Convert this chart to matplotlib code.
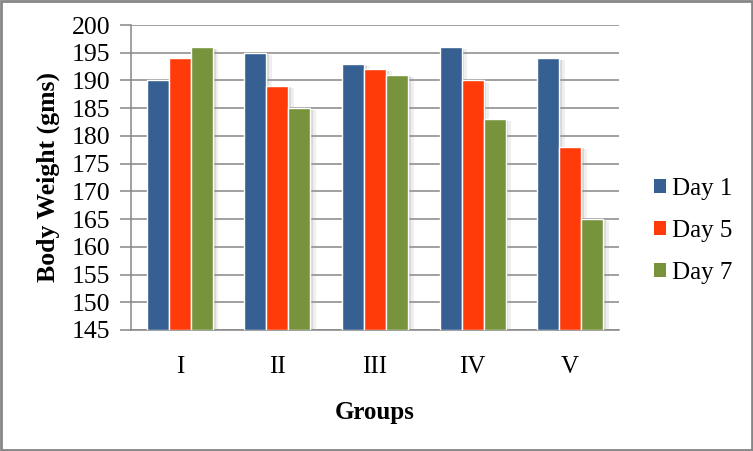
import matplotlib
matplotlib.use("Agg")
import matplotlib.pyplot as plt
import matplotlib.patheffects as pe
from matplotlib.patches import Rectangle, Patch
import numpy as np

groups = ["I", "II", "III", "IV", "V"]
series_names = ["Day 1", "Day 5", "Day 7"]
day1 = [190, 195, 193, 196, 194]
day5 = [194, 189, 192, 190, 178]
day7 = [196, 185, 191, 183, 165]
colors = ["#366092", "#FF3B0A", "#77933C"]
y_ticks = list(range(145, 201, 5))

plt.rcParams['font.family'] = ['Liberation Serif', 'DejaVu Serif']

fig = plt.figure(figsize=(7.53, 4.51), dpi=100)
ax = fig.add_axes([131/753, 1-330/451, (619-131)/753, (330-25)/451])

x = np.arange(len(groups))
w = 0.2254
shadow = [pe.SimplePatchShadow(offset=(2, -1), shadow_rgbFace=(0.55, 0.55, 0.55), alpha=0.25),
          pe.SimplePatchShadow(offset=(4, -1.5), shadow_rgbFace=(0.6, 0.6, 0.6), alpha=0.15),
          pe.Normal()]
for i, (vals, name, c) in enumerate(zip([day1, day5, day7], series_names, colors)):
    bars = ax.bar(x + (i - 1) * w, [v - 145 for v in vals], width=w, bottom=145,
                  color=c, edgecolor="white", linewidth=1.0, label=name, zorder=3)
    for b in bars:
        b.set_path_effects(shadow)

ax.set_ylim(145, 200)
ax.set_xlim(-0.5, len(groups) - 0.5)
ax.set_yticks(y_ticks)
ax.set_yticklabels([str(t) for t in y_ticks], fontsize=18.5)
ax.set_xticks(x)
ax.set_xticklabels(groups, fontsize=18)
ax.tick_params(axis='x', length=0, pad=19)
ax.tick_params(axis='y', length=8, width=1.1, color="#868686", pad=7)
ax.yaxis.grid(True, color="#868686", linewidth=1.1, zorder=0)
ax.set_axisbelow(True)
for s in ["top", "right"]:
    ax.spines[s].set_visible(False)
for s in ["left", "bottom"]:
    ax.spines[s].set_color("#868686")
    ax.spines[s].set_linewidth(1.1)

ax.set_ylabel("Body Weight (gms)", fontsize=18.5, fontweight="bold", labelpad=8)
ax.set_xlabel("Groups", fontsize=18, fontweight="bold", labelpad=16)

handles = [Patch(facecolor=c, edgecolor="none") for c in colors]
fig.legend(handles, series_names, loc="upper left", bbox_to_anchor=(631/753, 1-155/451),
           frameon=False, fontsize=18, handlelength=0.5, handleheight=0.5,
           handletextpad=0.25, labelspacing=0.8)

fig.patches.append(Rectangle((0.0015, 0.002), 0.997, 0.9955, transform=fig.transFigure,
                             fill=False, edgecolor="#868686", linewidth=2))

fig.savefig("out.png", dpi=100)
